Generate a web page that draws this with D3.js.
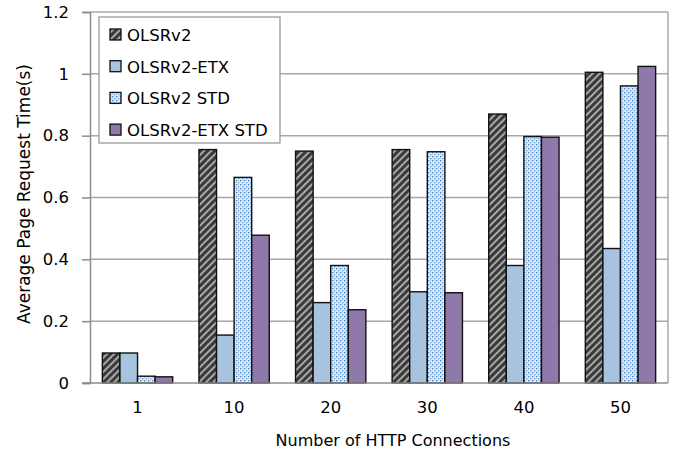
<!DOCTYPE html>
<html><head><meta charset="utf-8">
<script src="https://cdn.jsdelivr.net/npm/d3@7"></script>
<style>body{margin:0;background:#fff}svg{display:block}text{font-family:"DejaVu Sans",sans-serif;fill:#000}</style>
</head><body>
<svg id="c" width="677" height="459"></svg>
<script>
const categories = ["1","10","20","30","40","50"];
const seriesNames = ["OLSRv2","OLSRv2-ETX","OLSRv2 STD","OLSRv2-ETX STD"];
const olsr     = [0.097, 0.755, 0.75, 0.755, 0.87, 1.005];
const olsrEtx  = [0.097, 0.155, 0.26, 0.295, 0.38, 0.435];
const olsrStd  = [0.022, 0.665, 0.38, 0.748, 0.797, 0.961];
const etxStd   = [0.02, 0.478, 0.237, 0.292, 0.795, 1.024];
const yTicks = [0, 0.2, 0.4, 0.6, 0.8, 1, 1.2];
const seriesValues = [olsr, olsrEtx, olsrStd, etxStd];

const svg = d3.select("#c");
const L = 90, R = 668, T = 12, B = 383;
const defs = svg.append("defs");
// hatch pattern
const ph = defs.append("pattern").attr("id","hatch").attr("patternUnits","userSpaceOnUse")
  .attr("width",5).attr("height",5).attr("patternTransform","rotate(45)");
ph.append("rect").attr("width",5).attr("height",5).attr("fill","#3a3a3a");
ph.append("rect").attr("width",2).attr("height",5).attr("fill","#a8a8a8");
// dots pattern
const pd = defs.append("pattern").attr("id","dots").attr("patternUnits","userSpaceOnUse")
  .attr("width",4).attr("height",4);
pd.append("rect").attr("width",4).attr("height",4).attr("fill","#eef4fa");
pd.append("rect").attr("x",0).attr("y",0).attr("width",1.4).attr("height",1.4).attr("fill","#4f86bf");
pd.append("rect").attr("x",2).attr("y",2).attr("width",1.4).attr("height",1.4).attr("fill","#6d9ed0");
pd.append("rect").attr("x",2.4).attr("y",0.2).attr("width",1).attr("height",1).attr("fill","#9dbfe2");
pd.append("rect").attr("x",0.3).attr("y",2.4).attr("width",1).attr("height",1).attr("fill","#9dbfe2");

const fills = ["url(#hatch)","#a7c3df","url(#dots)","#8f79ab"];

const y = d3.scaleLinear().domain([0,1.2]).range([B,T]);
const x0 = d3.scaleBand().domain(categories).range([L,R]).paddingInner(0.272).paddingOuter(0.128);
const x1 = d3.scaleBand().domain(seriesNames).range([0,x0.bandwidth()]);

// gridlines
svg.append("g").selectAll("line").data(yTicks.filter(d=>d>0)).join("line")
  .attr("x1",L).attr("x2",R).attr("y1",d=>y(d)).attr("y2",d=>y(d))
  .attr("stroke","#a8a8a8").attr("stroke-width",1.5);
// right border
svg.append("line").attr("x1",R).attr("x2",R).attr("y1",T).attr("y2",B).attr("stroke","#a8a8a8").attr("stroke-width",1.5);

// bars
const g = svg.append("g");
categories.forEach((c,i)=>{
  seriesNames.forEach((s,j)=>{
    const v = seriesValues[j][i];
    g.append("rect").attr("x",x0(c)+x1(s)).attr("width",x1.bandwidth())
      .attr("y",y(v)).attr("height",y(0)-y(v))
      .attr("fill",fills[j]).attr("stroke","#111").attr("stroke-width",1.4);
  });
});

// y axis
const ya = svg.append("g").attr("transform",`translate(${L},0)`)
  .call(d3.axisLeft(y).tickValues(yTicks).tickFormat(d=>d3.format("")(d)).tickSize(8).tickPadding(13));
ya.select(".domain").attr("stroke","#8c8c8c").attr("stroke-width",1.5);
ya.selectAll(".tick line").attr("stroke","#8c8c8c").attr("stroke-width",1.5);
ya.selectAll("text").attr("font-size",16.5).attr("fill","#000").attr("font-family","DejaVu Sans");
// x axis
const xa = svg.append("g").attr("transform",`translate(0,${B})`)
  .call(d3.axisBottom(x0).tickSize(0).tickPadding(18));
xa.select(".domain").attr("stroke","#8c8c8c").attr("stroke-width",1.5).attr("d",`M${L-8},0H${R}`);
xa.selectAll("text").attr("font-size",16.5).attr("fill","#000").attr("font-family","DejaVu Sans");

// titles
svg.append("text").attr("x",393).attr("y",446).attr("text-anchor","middle").attr("font-size",16).text("Number of HTTP Connections");
svg.append("text").attr("transform","translate(30,194) rotate(-90)").attr("text-anchor","middle").attr("font-size",17).text("Average Page Request Time(s)");

// legend
const lg = svg.append("g");
lg.append("rect").attr("x",99).attr("y",17).attr("width",181).attr("height",126).attr("fill","#fff").attr("stroke","#9a9a9a").attr("stroke-width",1.3);
seriesNames.forEach((s,j)=>{
  const cy = 35 + j*31.7;
  lg.append("rect").attr("x",110).attr("y",cy-6).attr("width",11).attr("height",11)
    .attr("fill",fills[j]).attr("stroke","#111").attr("stroke-width",1.3);
  lg.append("text").attr("x",127).attr("y",cy+6).attr("font-size",16.5).text(s);
});
</script>
</body></html>
